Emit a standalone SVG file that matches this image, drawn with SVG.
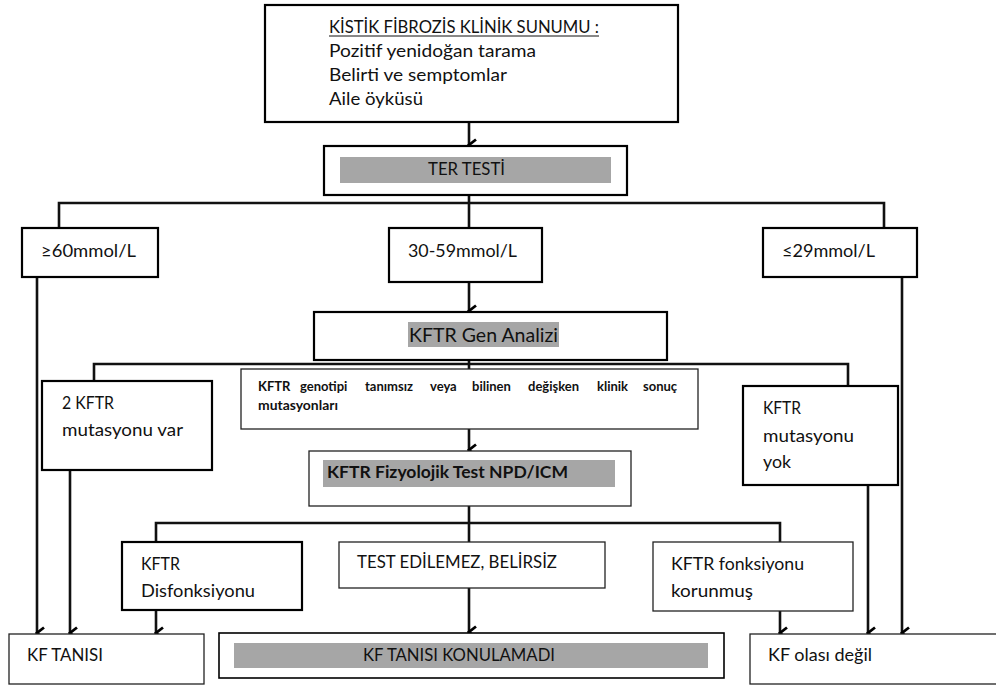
<svg xmlns="http://www.w3.org/2000/svg" width="996" height="689" viewBox="0 0 996 689">
<defs>
<marker id="ah" markerUnits="userSpaceOnUse" markerWidth="14" markerHeight="12" refX="7" refY="10" orient="auto-start-reverse" viewBox="0 0 14 12">
<path d="M1.5,3 L7,10 L12.5,3" fill="none" stroke="#000" stroke-width="2.8"/>
</marker>
<style>
.bx{fill:#fff;stroke:#000;stroke-width:2.2}
.tn{fill:#fff;stroke:#222;stroke-width:1.3}
.hl{fill:#a6a6a6}
.t{font-family:Lato,"Liberation Sans",sans-serif;font-size:17px;fill:#111}
.b{font-weight:bold}
.c{fill:none;stroke:#111;stroke-width:2.6}
.ca{fill:none;stroke:#111;stroke-width:2.6;marker-end:url(#ah)}
</style>
</defs>
<rect width="996" height="689" fill="#fff"/>

<g id="connectors">
<path class="ca" d="M469,122 V145"/>
<path class="c" d="M469,195 V203 M59,228 V203 H884 V228 M469,203 V228"/>
<path class="ca" d="M469,282 V311"/>
<path class="c" d="M469,360 V369 M94,381 V364 H848 V386"/>
<path class="ca" d="M469,429 V450"/>
<path class="c" d="M469,506 V542 M156,542 V523 H780 V542"/>
<path class="ca" d="M37,277 V633"/>
<path class="ca" d="M70,470 V633"/>
<path class="ca" d="M156,610 V633"/>
<path class="ca" d="M469,588 V632"/>
<path class="ca" d="M780,611 V633"/>
<path class="ca" d="M868,485 V633"/>
<path class="ca" d="M902,277 V633"/>
</g>

<g id="n-sunum">
<rect class="bx" x="265" y="5" width="413" height="117"/>
<text class="t" x="329" y="33" textLength="270" lengthAdjust="spacingAndGlyphs">KİSTİK FİBROZİS KLİNİK SUNUMU :</text>
<line x1="329" y1="36" x2="599" y2="36" stroke="#111" stroke-width="1"/>
<text class="t" x="329" y="57" textLength="207" lengthAdjust="spacingAndGlyphs">Pozitif yenidoğan tarama</text>
<text class="t" x="329" y="81" textLength="178" lengthAdjust="spacingAndGlyphs">Belirti ve semptomlar</text>
<text class="t" x="329" y="105" textLength="94" lengthAdjust="spacingAndGlyphs">Aile öyküsü</text>
</g>

<g id="n-ter">
<rect class="bx" x="324" y="146" width="303" height="49"/>
<rect class="hl" x="340" y="157" width="271" height="26"/>
<text class="t" x="428" y="175" textLength="77" lengthAdjust="spacingAndGlyphs">TER TESTİ</text>
</g>

<g id="n-60">
<rect class="bx" x="22" y="228" width="136" height="49"/>
<text class="t" x="41" y="257" textLength="95" lengthAdjust="spacingAndGlyphs">≥60mmol/L</text>
</g>

<g id="n-3059">
<rect class="bx" x="389" y="228" width="153" height="54"/>
<text class="t" x="408" y="257" textLength="109" lengthAdjust="spacingAndGlyphs">30-59mmol/L</text>
</g>

<g id="n-29">
<rect class="bx" x="763" y="228" width="154" height="49"/>
<text class="t" x="782" y="257" textLength="93" lengthAdjust="spacingAndGlyphs">≤29mmol/L</text>
</g>

<g id="n-gen">
<rect class="bx" x="314" y="312" width="353" height="48"/>
<rect class="hl" x="408" y="322" width="151" height="25"/>
<text class="t" x="409" y="342" style="font-size:19px" textLength="149" lengthAdjust="spacingAndGlyphs">KFTR Gen Analizi</text>
</g>

<g id="n-2kftr">
<rect class="bx" x="42" y="381" width="170" height="89"/>
<text class="t" x="62" y="409" textLength="52" lengthAdjust="spacingAndGlyphs">2 KFTR</text>
<text class="t" x="62" y="436" textLength="121" lengthAdjust="spacingAndGlyphs">mutasyonu var</text>
</g>

<g id="n-genotip">
<rect class="tn" x="241" y="369" width="457" height="60"/>
<text class="t b" y="391" style="font-size:13px"><tspan x="258">KFTR</tspan><tspan x="300">genotipi</tspan><tspan x="365">tanımsız</tspan><tspan x="430">veya</tspan><tspan x="472">bilinen</tspan><tspan x="528">değişken</tspan><tspan x="597">klinik</tspan><tspan x="643">sonuç</tspan></text>
<text class="t b" x="258" y="410" style="font-size:13px" textLength="80" lengthAdjust="spacingAndGlyphs">mutasyonları</text>
</g>

<g id="n-yok">
<rect class="bx" x="743" y="386" width="155" height="99"/>
<text class="t" x="763" y="414" textLength="38" lengthAdjust="spacingAndGlyphs">KFTR</text>
<text class="t" x="763" y="442" textLength="91" lengthAdjust="spacingAndGlyphs">mutasyonu</text>
<text class="t" x="763" y="468" textLength="28" lengthAdjust="spacingAndGlyphs">yok</text>
</g>

<g id="n-fizyo">
<rect class="tn" x="309" y="451" width="322" height="55"/>
<rect class="hl" x="323" y="460" width="292" height="27"/>
<text class="t b" x="327" y="478" style="font-size:17px" textLength="241" lengthAdjust="spacingAndGlyphs">KFTR Fizyolojik Test NPD/ICM</text>
</g>

<g id="n-disf">
<rect class="bx" x="122" y="542" width="180" height="68"/>
<text class="t" x="141" y="570" textLength="39" lengthAdjust="spacingAndGlyphs">KFTR</text>
<text class="t" x="141" y="597" textLength="114" lengthAdjust="spacingAndGlyphs">Disfonksiyonu</text>
</g>

<g id="n-belirsiz">
<rect class="tn" x="339" y="542" width="266" height="46"/>
<text class="t" x="357" y="568" textLength="200" lengthAdjust="spacingAndGlyphs">TEST EDİLEMEZ, BELİRSİZ</text>
</g>

<g id="n-korun">
<rect class="tn" x="653" y="542" width="200" height="69"/>
<text class="t" x="671" y="570" textLength="133" lengthAdjust="spacingAndGlyphs">KFTR fonksiyonu</text>
<text class="t" x="671" y="597" textLength="82" lengthAdjust="spacingAndGlyphs">korunmuş</text>
</g>

<g id="n-kftanisi">
<rect class="tn" x="9" y="634" width="195" height="50"/>
<text class="t" x="27" y="661" textLength="76" lengthAdjust="spacingAndGlyphs">KF TANISI</text>
</g>

<g id="n-konulamadi">
<rect class="bx" x="219" y="633" width="505" height="45" style="stroke-width:1.6"/>
<rect class="hl" x="234" y="643" width="474" height="25"/>
<text class="t" x="363" y="661" textLength="192" lengthAdjust="spacingAndGlyphs">KF TANISI KONULAMADI</text>
</g>

<g id="n-olasi">
<rect class="tn" x="750" y="634" width="260" height="50"/>
<text class="t" x="768" y="661" textLength="104" lengthAdjust="spacingAndGlyphs">KF olası değil</text>
</g>
</svg>
